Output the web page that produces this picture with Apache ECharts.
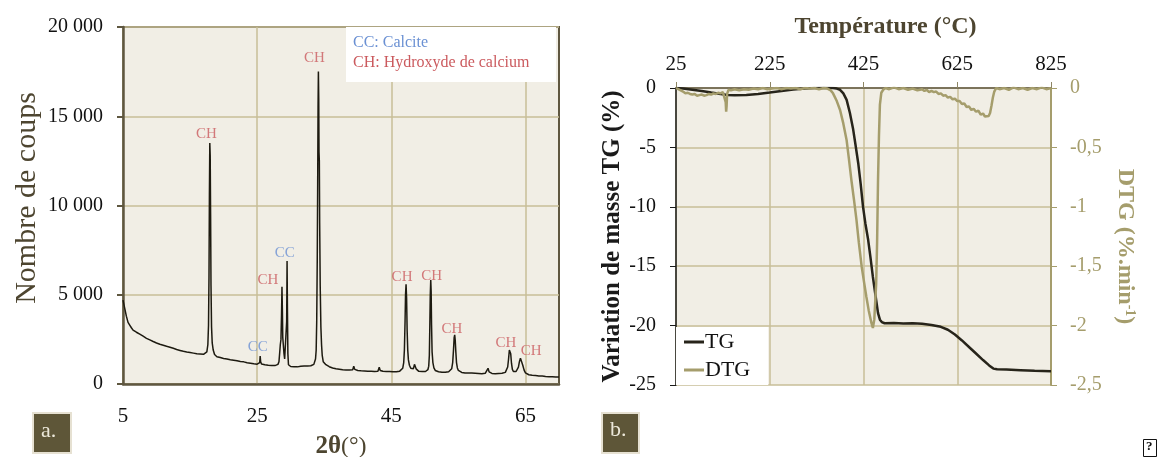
<!DOCTYPE html>
<html><head><meta charset="utf-8">
<script src="https://cdn.jsdelivr.net/npm/echarts@6/dist/echarts.min.js"></script>
<style>html,body{margin:0;padding:0;background:#fff}#c{width:1159px;height:457px}</style>
</head><body><div id="c"></div>
<script>
// ---------- Data: (a) XRD pattern ----------
const xrdXTicks = [5, 25, 45, 65];
const xrdYTicks = [0, 5000, 10000, 15000, 20000];
const xrdPattern = [
[5,4700],[5.25,4250],[5.5,3800],[5.75,3450],[6,3300],[6.25,3150],[6.5,3020],[6.75,2960],[7,2900],[7.25,2830],[7.5,2790],[7.75,2720],
[8,2680],[8.25,2640],[8.5,2560],[8.75,2530],[9,2470],[9.25,2450],[9.5,2380],[9.75,2360],[10,2300],[10.25,2290],[10.5,2230],[10.75,2240],
[11,2170],[11.25,2160],[11.5,2110],[11.75,2090],[12,2060],[12.25,2010],[12.5,2000],[12.75,1950],[13,1930],[13.25,1900],[13.5,1880],[13.75,1840],
[14,1830],[14.25,1800],[14.5,1790],[14.75,1750],[15,1760],[15.25,1720],[15.5,1730],[15.75,1690],[16,1700],[16.25,1670],[16.5,1680],[16.75,1640],
[17,1660],[17.25,1700],[17.5,1800],[17.65,2200],[17.75,3300],[17.82,6000],[17.88,10500],[17.94,13500],[18,12800],[18.06,9500],[18.12,5500],
[18.2,3200],[18.3,2300],[18.45,1900],[18.65,1650],[18.85,1580],[19,1530],[19.25,1510],[19.5,1480],[19.75,1470],[20,1430],[20.25,1420],[20.5,1400],
[20.75,1370],[21,1360],[21.25,1340],[21.5,1330],[21.75,1300],[22,1300],[22.25,1270],[22.5,1260],[22.75,1230],[23,1240],[23.25,1200],[23.5,1190],
[23.75,1180],[24,1160],[24.25,1170],[24.5,1130],[24.75,1140],[25,1110],[25.25,1130],[25.38,1200],[25.45,1570],[25.52,1250],[25.65,1120],
[25.9,1060],[26.15,1080],[26.4,1030],[26.65,1050],[26.9,1010],[27.15,1040],[27.4,1000],[27.65,1030],[27.9,1040],[28.1,1100],[28.25,1250],
[28.35,1700],[28.45,2200],[28.55,2500],[28.63,3800],[28.7,5450],[28.76,4200],[28.82,2600],[28.9,2200],[29,1700],[29.1,1400],[29.2,1380],
[29.32,1500],[29.4,3500],[29.46,6890],[29.52,4000],[29.58,1700],[29.67,1080],[29.8,1000],[30,980],[30.25,1000],[30.5,970],[30.75,990],
[31,960],[31.25,980],[31.5,1000],[31.75,990],[32,1010],[32.25,990],[32.5,1010],[32.75,1000],[33,1020],[33.25,1050],[33.45,1100],[33.6,1200],
[33.7,1400],[33.8,1900],[33.88,3500],[33.96,7000],[34.02,11000],[34.08,15500],[34.13,17500],[34.18,16000],[34.22,13000],[34.27,12500],
[34.32,9000],[34.4,5500],[34.5,3200],[34.6,2200],[34.7,1600],[34.85,1250],[35,1150],[35.25,1080],[35.5,1010],[35.75,970],[36,920],[36.25,900],
[36.5,880],[36.75,860],[37,850],[37.25,830],[37.5,820],[37.75,800],[38,810],[38.25,790],[38.5,780],[38.75,790],[39,770],[39.25,800],[39.4,1000],
[39.55,820],[39.75,770],[40,760],[40.25,770],[40.5,740],[40.75,750],[41,730],[41.25,740],[41.5,720],[41.75,730],[42,710],[42.25,720],[42.5,700],
[42.75,710],[43,720],[43.2,940],[43.35,760],[43.5,700],[43.75,710],[44,690],[44.25,700],[44.5,680],[44.75,700],[45,690],[45.25,680],[45.5,700],
[45.75,690],[46,700],[46.25,720],[46.5,760],[46.7,880],[46.85,1200],[46.95,1900],[47.05,3500],[47.12,5000],[47.2,5590],[47.28,4800],[47.36,3000],
[47.45,1900],[47.55,1350],[47.7,1050],[47.9,880],[48.1,820],[48.3,860],[48.45,1100],[48.55,1150],[48.7,850],[48.9,740],[49.1,710],[49.35,690],
[49.6,700],[49.85,680],[50.1,700],[50.3,730],[50.45,800],[50.58,1000],[50.67,1600],[50.74,3200],[50.81,5000],[50.88,5830],[50.94,5200],[51,3300],
[51.08,1800],[51.2,1200],[51.35,900],[51.55,760],[51.8,700],[52.05,690],[52.3,680],[52.55,660],[52.8,680],[53.05,660],[53.3,680],[53.55,690],
[53.8,720],[54,850],[54.15,1200],[54.27,1900],[54.37,2600],[54.45,2750],[54.53,2450],[54.62,1800],[54.72,1200],[54.85,900],[55,760],[55.25,680],
[55.5,650],[55.75,640],[56,620],[56.25,630],[56.5,610],[56.75,600],[57,610],[57.25,590],[57.5,600],[57.75,580],[58,590],[58.25,600],[58.5,580],
[58.75,590],[59,600],[59.25,640],[59.42,880],[59.58,680],[59.8,600],[60,590],[60.25,600],[60.5,580],[60.75,600],[61,590],[61.25,610],[61.5,600],
[61.75,620],[62,650],[62.2,720],[62.35,950],[62.48,1400],[62.6,1900],[62.7,1960],[62.8,1700],[62.92,1150],[63.05,820],[63.2,700],[63.4,680],
[63.6,700],[63.8,760],[63.95,950],[64.1,1250],[64.25,1450],[64.35,1500],[64.45,1380],[64.6,1050],[64.8,780],[65,620],[65.25,560],[65.5,520],
[65.75,500],[66,490],[66.25,480],[66.5,470],[66.75,460],[67,450],[67.25,440],[67.5,450],[67.75,430],[68,420],[68.25,430],[68.5,410],[68.75,420],
[69,400],[69.25,410],[69.5,390],[69.75,400],[70,390]
];
const peakLabelText = ['CH','CC','CH','CC','CH','CH','CH','CH','CH','CH'];
const peakLabelTwoTheta = [17.45, 25.1, 26.6, 29.1, 33.55, 46.6, 51.0, 54.05, 62.1, 65.85];
const peakLabelCounts = [14000, 2070, 5830, 7320, 18250, 5980, 6050, 3060, 2280, 1860];

// ---------- Data: (b) thermogravimetry ----------
const tempTicks = [25, 225, 425, 625, 825];
const tgTicks = [0, -5, -10, -15, -20, -25];
const dtgTicks = [0, -0.5, -1, -1.5, -2, -2.5];
const tgCurve = [
[25,0],[40,-0.05],[60,-0.15],[80,-0.25],[100,-0.38],[120,-0.5],[135,-0.58],[150,-0.6],[175,-0.58],[200,-0.5],[225,-0.38],[250,-0.25],
[275,-0.12],[300,-0.04],[320,0],[340,0.02],[360,0],[368,-0.05],[375,-0.15],[382,-0.45],[389,-1.0],[396,-2.1],[403,-3.5],[408,-4.8],
[414,-6.4],[419,-8.1],[424,-10.0],[429,-11.4],[435,-12.8],[440,-14.3],[445,-15.9],[450,-17.3],[456,-18.95],[460,-19.5],[464,-19.7],
[470,-19.8],[490,-19.78],[510,-19.82],[530,-19.8],[550,-19.85],[570,-19.95],[590,-20.1],[605,-20.35],[620,-20.75],[635,-21.25],[650,-21.8],
[665,-22.35],[680,-22.9],[693,-23.35],[702,-23.62],[710,-23.68],[730,-23.7],[760,-23.75],[790,-23.8],[825,-23.85]
];
const dtgCurve = [
[25,0],[30,-0.01],[35,-0.02],[40,-0.03],[45,-0.045],[50,-0.04],[55,-0.05],[60,-0.055],[65,-0.05],[70,-0.065],[75,-0.06],[80,-0.055],[85,-0.065],
[90,-0.06],[95,-0.05],[100,-0.055],[105,-0.045],[110,-0.05],[115,-0.04],[120,-0.045],[125,-0.035],[129,-0.04],[131,-0.12],[132,-0.2],[133,-0.15],
[134,-0.05],[137,-0.015],[142,-0.02],[150,-0.01],[160,-0.02],[170,-0.01],[180,-0.015],[190,-0.005],[200,-0.01],[210,0],[220,-0.01],[230,-0.005],
[240,0],[250,-0.01],[260,0],[270,-0.005],[280,0],[290,-0.01],[300,0],[310,-0.005],[320,0],[330,-0.01],[340,0],[348,-0.005],[355,-0.02],
[360,-0.045],[368,-0.11],[375,-0.185],[382,-0.3],[389,-0.44],[394,-0.6],[399,-0.77],[405,-0.95],[410,-1.11],[415,-1.3],[421,-1.5],[426,-1.63],
[431,-1.755],[436,-1.87],[442,-1.98],[445,-2.02],[448,-1.95],[452,-1.65],[454,-1.3],[456,-0.77],[458,-0.4],[460,-0.14],[463,-0.04],[467,-0.015],
[472,0],[480,-0.01],[490,0.005],[500,-0.01],[510,0],[520,-0.015],[530,-0.005],[540,-0.02],[550,-0.01],[555,-0.025],[560,-0.015],
[565,-0.035],[570,-0.025],[575,-0.035],[580,-0.03],[585,-0.05],[590,-0.045],[595,-0.065],[600,-0.06],[605,-0.08],[610,-0.075],[615,-0.095],
[620,-0.09],[625,-0.11],[630,-0.11],[635,-0.135],[640,-0.13],[645,-0.16],[650,-0.155],[655,-0.185],[660,-0.175],[665,-0.2],[670,-0.19],
[675,-0.225],[680,-0.215],[684,-0.24],[688,-0.225],[692,-0.235],[695,-0.21],[698,-0.15],[701,-0.08],[704,-0.03],[708,0],[715,-0.01],[725,0],
[735,-0.015],[745,0.005],[755,-0.01],[765,0],[775,-0.015],[785,0],[795,-0.01],[805,0.005],[815,-0.01],[825,0]
];

// ---------- Styles ----------
const FONT = "'Liberation Serif', 'DejaVu Serif', serif";
const DARK_OLIVE = '#5f5740';
const TITLE_OLIVE = '#4d4530';
const GRID_COL = '#c7be97';
const PLOT_BG = '#f1eee5';
const DTG_COL = '#a59d6c';
const TG_COL = '#27241a';
const CC_COL = '#6a90d3';
const CH_COL = '#cb5a5e';

function frThousands(v) {
  if (v === 0) return '0';
  const s = String(Math.round(v));
  return s.replace(/\B(?=(\d{3})+(?!\d))/g, ' ');
}

const chart = echarts.init(document.getElementById('c'), null, {renderer: 'canvas'});
const option = {
  animation: false,
  backgroundColor: '#ffffff',
  textStyle: {fontFamily: FONT},
  grid: [
    {left: 123, top: 27, width: 436, height: 357, show: true, backgroundColor: PLOT_BG,
     borderColor: DARK_OLIVE, borderWidth: 2, containLabel: false, outerBoundsMode: 'none'},
    {left: 676, top: 88, width: 375, height: 297, show: true, backgroundColor: PLOT_BG,
     borderWidth: 0, containLabel: false, outerBoundsMode: 'none'}
  ],
  legend: {
    data: ['TG', 'DTG'], orient: 'vertical', left: 676, top: 327,
    backgroundColor: '#ffffff', padding: [4, 18, 4, 8], itemGap: 6,
    itemWidth: 20, itemHeight: 3, icon: 'rect',
    textStyle: {fontFamily: FONT, fontSize: 22, color: '#111111', padding: [0, 0, 0, -4]}
  },
  xAxis: [
    {gridIndex: 0, type: 'value', min: 5, max: 70, interval: 20,
     axisLine: {show: true, lineStyle: {color: DARK_OLIVE, width: 2.5}},
     axisTick: {show: false, customValues: xrdXTicks},
     axisLabel: {customValues: xrdXTicks, fontFamily: FONT, fontSize: 21, color: '#111111', margin: 22,
                 formatter: v => xrdXTicks.includes(v) ? String(v) : ''},
     splitLine: {show: true, lineStyle: {color: GRID_COL, width: 1.5}},
     name: '{b|2θ}{n|(°)}', nameLocation: 'middle', nameGap: 50,
     nameTextStyle: {rich: {b: {fontFamily: FONT, fontSize: 25, fontWeight: 'bold', color: TITLE_OLIVE},
                             n: {fontFamily: FONT, fontSize: 24, color: TITLE_OLIVE}}}},
    {gridIndex: 1, type: 'value', position: 'top', min: 25, max: 825, interval: 200,
     axisLine: {show: true, lineStyle: {color: DARK_OLIVE, width: 1.5}},
     axisTick: {show: true, length: 6, customValues: tempTicks, lineStyle: {color: '#8e8664', width: 1}},
     axisLabel: {customValues: tempTicks, fontFamily: FONT, fontSize: 21, color: '#111111', margin: 13},
     splitLine: {show: true, lineStyle: {color: GRID_COL, width: 1.5}},
     name: 'Température (°C)', nameLocation: 'middle', nameGap: 49,
     nameTextStyle: {fontFamily: FONT, fontSize: 24, fontWeight: 'bold', color: TITLE_OLIVE, padding: [0, 0, 0, 44]}}
  ],
  yAxis: [
    {gridIndex: 0, type: 'value', min: 0, max: 20000, interval: 5000,
     axisLine: {show: true, lineStyle: {color: DARK_OLIVE, width: 2.5}},
     axisTick: {show: true, length: 6, lineStyle: {color: DARK_OLIVE, width: 2}},
     axisLabel: {fontFamily: FONT, fontSize: 20, color: '#111111', margin: 20, padding: [6, 0, 0, 0], formatter: frThousands},
     splitLine: {show: true, lineStyle: {color: GRID_COL, width: 1.5}},
     name: 'Nombre de coups', nameLocation: 'middle', nameGap: 81,
     nameTextStyle: {fontFamily: FONT, fontSize: 30, color: TITLE_OLIVE, padding: [0, 0, 0, 15]}},
    {gridIndex: 1, type: 'value', min: -25, max: 0, interval: 5,
     axisLine: {show: true, lineStyle: {color: '#1a1a1a', width: 1.5}},
     axisTick: {show: true, length: 6, lineStyle: {color: '#1a1a1a', width: 1}},
     axisLabel: {fontFamily: FONT, fontSize: 20, color: '#111111', margin: 20, padding: [6, 0, 0, 0]},
     splitLine: {show: true, lineStyle: {color: GRID_COL, width: 1.5}},
     name: 'Variation de masse TG (%)', nameLocation: 'middle', nameGap: 36,
     nameTextStyle: {fontFamily: FONT, fontSize: 25, fontWeight: 'bold', color: '#1a1a1a'}},
    {gridIndex: 1, type: 'value', position: 'right', min: -2.5, max: 0, interval: 0.5,
     axisLine: {show: true, lineStyle: {color: DTG_COL, width: 2}},
     axisTick: {show: true, length: 6, lineStyle: {color: DTG_COL, width: 1}},
     axisLabel: {fontFamily: FONT, fontSize: 20, color: DTG_COL, margin: 19, padding: [5, 0, 0, 0],
                 formatter: v => String(v).replace('.', ',')},
     splitLine: {show: false},
     name: 'DTG (%.min{s|-1})', nameLocation: 'middle', nameGap: 62, nameRotate: -90,
     nameTextStyle: {fontFamily: FONT, fontSize: 24, fontWeight: 'bold', color: DTG_COL, padding: [0, 0, 0, 20],
                     rich: {s: {fontFamily: FONT, fontSize: 14, fontWeight: 'bold', color: DTG_COL, verticalAlign: 'top', padding: [0, 0, 8, 0]}}}}
  ],
  series: [
    {name: 'XRD', type: 'line', xAxisIndex: 0, yAxisIndex: 0, data: xrdPattern, showSymbol: false,
     lineStyle: {color: '#1d1a10', width: 1.5}, z: 3},
    {name: 'peaks', type: 'scatter', xAxisIndex: 0, yAxisIndex: 0, symbolSize: 0, silent: true,
     data: peakLabelText.map((t, i) => ({value: [peakLabelTwoTheta[i], peakLabelCounts[i]], name: t,
        label: {color: t === 'CC' ? CC_COL : CH_COL}})),
     label: {show: true, position: 'inside', formatter: p => p.name, fontFamily: FONT, fontSize: 15}, z: 4},
    {name: 'TG', type: 'line', xAxisIndex: 1, yAxisIndex: 1, data: tgCurve, showSymbol: false,
     itemStyle: {color: TG_COL}, lineStyle: {color: TG_COL, width: 2.5}, z: 3},
    {name: 'DTG', type: 'line', xAxisIndex: 1, yAxisIndex: 2, data: dtgCurve, showSymbol: false,
     itemStyle: {color: DTG_COL}, lineStyle: {color: DTG_COL, width: 2.5}, z: 3}
  ],
  graphic: [
    {type: 'rect', left: 346, top: 27, shape: {width: 210, height: 55}, style: {fill: '#ffffff'}, z: 10},
    {type: 'text', left: 353, top: 35, style: {text: 'CC: Calcite', fill: CC_COL, font: '16px ' + FONT}, z: 11},
    {type: 'text', left: 353, top: 55, style: {text: 'CH: Hydroxyde de calcium', fill: CH_COL, font: '16px ' + FONT}, z: 11},
    {type: 'rect', left: 32, top: 412, shape: {width: 38, height: 40}, style: {fill: '#5e5638', stroke: '#e6e1d2', lineWidth: 2}, z: 10},
    {type: 'text', left: 41, top: 420, style: {text: 'a.', fill: '#ece8da', font: '22px ' + FONT}, z: 11},
    {type: 'rect', left: 601, top: 412, shape: {width: 37, height: 40}, style: {fill: '#5e5638', stroke: '#e6e1d2', lineWidth: 2}, z: 10},
    {type: 'text', left: 610, top: 419, style: {text: 'b.', fill: '#ece8da', font: '22px ' + FONT}, z: 11},
    {type: 'rect', left: 1143, top: 439, shape: {width: 13, height: 17}, style: {fill: '#ffffff', stroke: '#111111', lineWidth: 1}, z: 10},
    {type: 'text', left: 1146, top: 440, style: {text: '?', fill: '#111111', font: 'bold 13px ' + FONT}, z: 11}
  ]
};
chart.setOption(option);
</script>
</body></html>
